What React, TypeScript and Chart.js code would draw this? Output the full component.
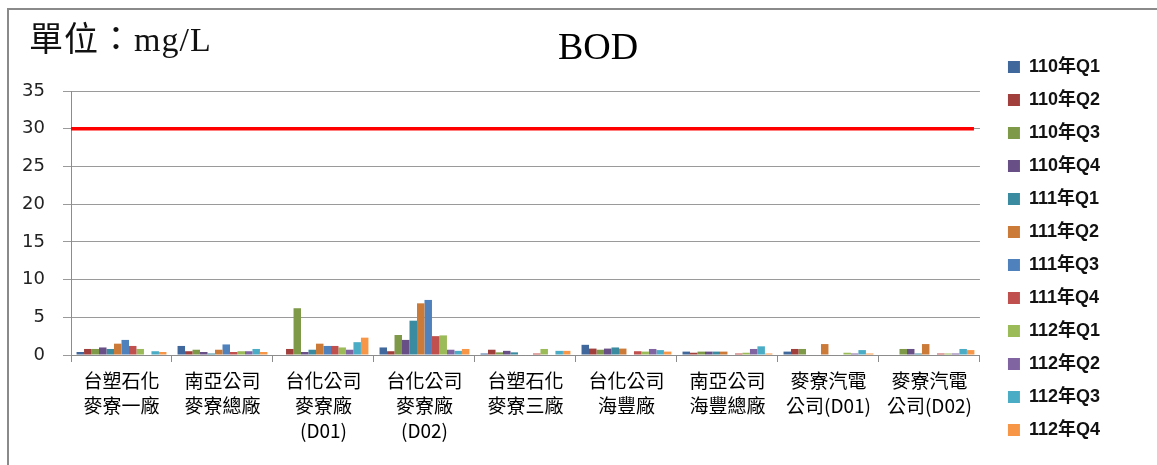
import React, { useEffect, useRef } from "react";
import { Chart, registerables } from "chart.js";

Chart.register(...registerables);

const categories: string[][] = [
  ["台塑石化", "麥寮一廠"],
  ["南亞公司", "麥寮總廠"],
  ["台化公司", "麥寮廠", "(D01)"],
  ["台化公司", "麥寮廠", "(D02)"],
  ["台塑石化", "麥寮三廠"],
  ["台化公司", "海豐廠"],
  ["南亞公司", "海豐總廠"],
  ["麥寮汽電", "公司(D01)"],
  ["麥寮汽電", "公司(D02)"],
];

const seriesLabels = [
  "110年Q1", "110年Q2", "110年Q3", "110年Q4",
  "111年Q1", "111年Q2", "111年Q3", "111年Q4",
  "112年Q1", "112年Q2", "112年Q3", "112年Q4",
];

const seriesColors = [
  "#41689C", "#A03F3C", "#7E9A48", "#684F86",
  "#3A8AA0", "#CC7A38", "#4F81BD", "#C0504D",
  "#9BBB59", "#8064A2", "#4BACC6", "#F79646",
];

const v110Q1 = [0.4, 1.2, null, 1.0, 0.2, 1.35, 0.45, 0.45, null];
const v110Q2 = [0.8, 0.5, 0.8, 0.5, 0.7, 0.85, 0.3, 0.8, null];
const v110Q3 = [0.8, 0.7, 6.2, 2.65, 0.35, 0.7, 0.45, 0.8, 0.8];
const v110Q4 = [1.0, 0.4, 0.4, 2.0, 0.55, 0.85, 0.45, null, 0.8];
const v111Q1 = [0.8, 0.2, 0.7, 4.55, 0.35, 1.0, 0.45, null, 0.2];
const v111Q2 = [1.5, 0.7, 1.5, 6.85, null, 0.85, 0.45, 1.45, 1.45];
const v111Q3 = [2.0, 1.4, 1.2, 7.3, null, null, null, null, null];
const v111Q4 = [1.2, 0.4, 1.2, 2.5, 0.2, 0.5, 0.2, null, 0.2];
const v112Q1 = [0.8, 0.5, 1.0, 2.6, 0.8, 0.45, 0.3, 0.3, 0.2];
const v112Q2 = [null, 0.5, 0.7, 0.7, null, 0.8, 0.8, 0.2, 0.2];
const v112Q3 = [0.5, 0.8, 1.7, 0.55, 0.55, 0.65, 1.15, 0.65, 0.8];
const v112Q4 = [0.4, 0.4, 2.3, 0.8, 0.55, 0.45, 0.2, 0.2, 0.65];

const seriesValues = [
  v110Q1, v110Q2, v110Q3, v110Q4,
  v111Q1, v111Q2, v111Q3, v111Q4,
  v112Q1, v112Q2, v112Q3, v112Q4,
];

const yMin = 0;
const yMax = 35;
const yStep = 5;
const limitValue = 30;
const chartTitle = "BOD";
const unitLabel = "單位：mg/L";

const limitLinePlugin = {
  id: "limitLine",
  beforeDatasetsDraw(chart: any) {
    const { ctx, chartArea, scales } = chart;
    const yPix = scales.y.getPixelForValue(limitValue);
    ctx.save();
    ctx.strokeStyle = "#ff0000";
    ctx.lineWidth = 3.5;
    ctx.beginPath();
    ctx.moveTo(chartArea.left, yPix);
    ctx.lineTo(chartArea.right - 6, yPix);
    ctx.stroke();
    ctx.restore();
  },
};

export default function App() {
  const ref = useRef<HTMLCanvasElement>(null);

  useEffect(() => {
    if (!ref.current) return;
    const chart = new Chart(ref.current, {
      type: "bar",
      data: {
        labels: categories,
        datasets: seriesLabels.map((label, i) => ({
          label,
          data: seriesValues[i],
          backgroundColor: seriesColors[i],
          borderWidth: 0,
          categoryPercentage: 0.89,
          barPercentage: 1.0,
          xAxisID: "x",
          yAxisID: "y",
        })),
      },
      options: {
        animation: false,
        responsive: false,
        layout: { padding: { left: 10, right: 47, top: 0, bottom: 11 } },
        scales: {
          x: {
            type: "category",
            position: "bottom",
            grid: {
              display: true,
              drawOnChartArea: false,
              drawTicks: true,
              tickLength: 7,
              color: "#8c8c8c",
              offset: true,
            },
            border: { display: true, color: "#8c8c8c", width: 1 },
            ticks: {
              color: "#000",
              font: { family: '"Noto Sans CJK TC"', size: 19, lineHeight: 1.316 },
              padding: 6,
              maxRotation: 0,
              minRotation: 0,
              autoSkip: false,
            },
            afterFit: (s: any) => {
              s.height = 99;
            },
          },
          xTop: {
            type: "category",
            position: "top",
            display: true,
            grid: { display: false, drawTicks: false },
            border: { display: false },
            ticks: { display: false },
            afterFit: (s: any) => {
              s.height = 91;
            },
          },
          y: {
            type: "linear",
            position: "left",
            min: yMin,
            max: yMax,
            ticks: {
              stepSize: yStep,
              color: "#222",
              font: { family: '"DejaVu Sans"', size: 18 },
              padding: 18,
            },
            grid: { color: "#9a9a9a", tickLength: 8, drawTicks: true },
            border: { display: true, color: "#8c8c8c" },
            afterFit: (s: any) => {
              s.width = 61;
            },
          },
          y2: {
            type: "linear",
            position: "right",
            display: true,
            grid: { display: false, drawTicks: false },
            border: { display: false },
            ticks: { display: false },
            afterFit: (s: any) => {
              s.width = 13;
            },
          },
        },
        plugins: {
          title: { display: false },
          legend: {
            position: "right",
            align: "end",
            labels: {
              boxWidth: 12,
              boxHeight: 12,
              padding: 15,
              color: "#111",
              font: {
                family: '"Liberation Sans", "Noto Sans CJK TC"',
                size: 18,
                weight: "bold",
              },
            },
          },
          tooltip: { enabled: false },
        },
      } as any,
      plugins: [limitLinePlugin],
    });
    return () => chart.destroy();
  }, []);

  return (
    <div
      style={{
        position: "absolute",
        left: 0,
        top: 0,
        width: 1157,
        height: 465,
        overflow: "hidden",
        background: "#fff",
      }}
    >
      <div
        style={{
          position: "absolute",
          left: 7,
          top: 8,
          width: 1200,
          height: 500,
          border: "2px solid #8a8a8a",
          boxSizing: "border-box",
        }}
      />
      <canvas
        ref={ref}
        width={1157}
        height={465}
        style={{ position: "absolute", left: 0, top: 0, display: "block" }}
      />
      <div
        style={{
          position: "absolute",
          left: 29,
          top: 23,
          whiteSpace: "nowrap",
          fontFamily: '"Liberation Serif", "Noto Sans CJK TC", serif',
          fontSize: 34,
          lineHeight: "34px",
          letterSpacing: "1px",
          color: "#111",
        }}
      >
        {unitLabel}
      </div>
      <div
        style={{
          position: "absolute",
          left: 0,
          top: 27,
          width: 1196,
          textAlign: "center",
          fontFamily: '"Liberation Serif", serif',
          fontSize: 38,
          lineHeight: "38px",
          color: "#000",
        }}
      >
        {chartTitle}
      </div>
    </div>
  );
}
